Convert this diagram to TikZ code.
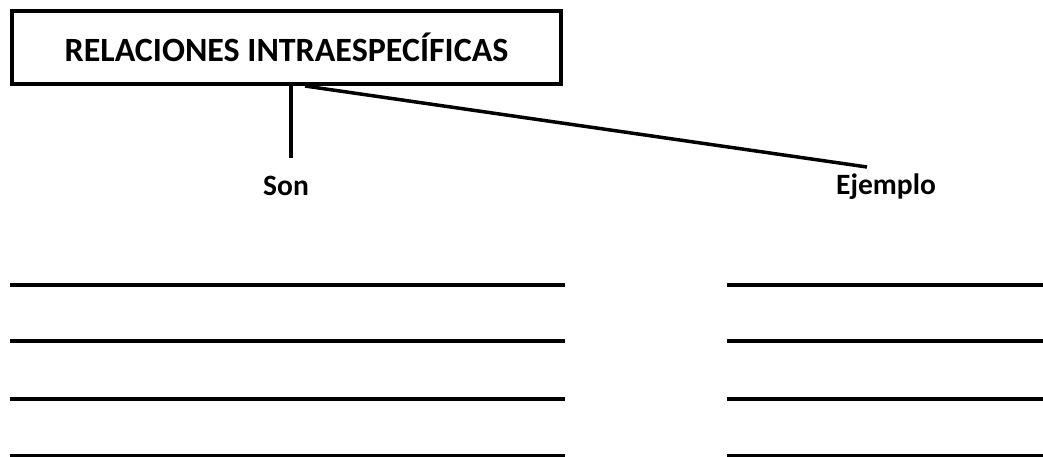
\documentclass[tikz,border=0pt]{standalone}
\usepackage{fontspec}
\setmainfont{Carlito}
\tikzset{
  titlebox/.style={draw=black, line width=4pt, inner sep=0pt, minimum width=549pt, minimum height=72.5pt, font=\fontsize{34}{40}\selectfont\bfseries},
  lbl/.style={inner sep=0pt, anchor=base west, font=\fontsize{29.5}{34}\selectfont\bfseries},
  conn/.style={line width=4pt},
  slant/.style={line width=3.5pt},
  wline/.style={line width=4pt}
}
\begin{document}
\begin{tikzpicture}[x=1pt,y=1pt]
\useasboundingbox (0,0) rectangle (1043,-457);
\node[titlebox] (title) at (286.5,-47.75) {RELACIONES INTRAESPECÍFICAS};
\node[lbl] (son) at (263,-195) {Son};
\node[lbl] (ej) at (836,-194) {Ejemplo};
\coordinate (vstart) at (291,-86);
\coordinate (vend) at (291,-158);
\coordinate (sstart) at (305,-86);
\coordinate (send) at (867,-167);
\draw[conn] (vstart) -- (vend);
\draw[slant] (sstart) -- (send);
\foreach \y in {285,341,398.5,455.5}{
  \draw[wline] (10,-\y) -- (565,-\y);
  \draw[wline] (727,-\y) -- (1043,-\y);
}
\end{tikzpicture}
\end{document}
